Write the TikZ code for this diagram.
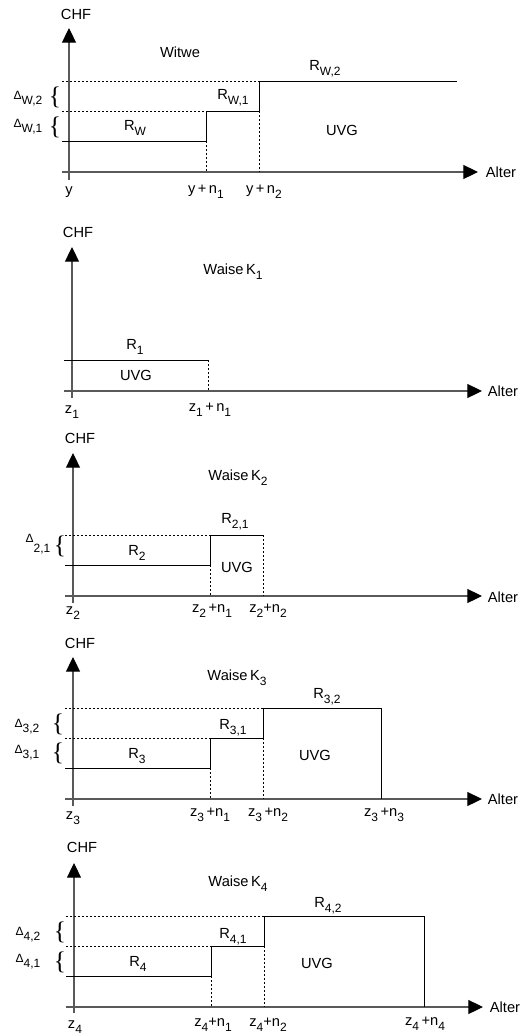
\documentclass[tikz,border=0pt]{standalone}
\usepackage{fontspec}
\setmainfont{Liberation Sans}
\newfontfamily\klammerfont{Liberation Serif}
\usetikzlibrary{arrows.meta}
\newcommand{\subx}[1]{\raisebox{-0.65ex}{\small #1}}
\newcommand{\dlt}{{\small Δ}}

\tikzset{every picture/.style={line width=0.75pt}}
\tikzset{every node/.style={font=\fontsize{11}{13}\selectfont, inner sep=0.75pt},
  axis/.style={draw=black!65, line width=0.8pt, -{Triangle[length=11pt,width=10.5pt,color=black]}},
  rente/.style={draw=black, line width=0.7pt},
  hilfs/.style={draw=black, line width=0.6pt, dash pattern={on 1.5pt off 1.5pt}},
  klammer/.style={font=\klammerfont\fontsize{19}{19}\selectfont}}

\begin{document}
\begin{tikzpicture}[x=0.75pt,y=0.75pt,yscale=-1,xscale=1]
  \useasboundingbox (0,0) rectangle (519,1035);

  %Panel: Witwe
  %Shape: Axis 2D
  \draw [axis] (69,180) -- (69,28) ;
  \draw [axis] (62,172) -- (478,172) ;
  %Straight Lines
  \draw [hilfs] (62,81) -- (259,81) ;
  \draw [hilfs] (62,111) -- (206,111) ;
  \draw [hilfs] (206,141) -- (206,172) ;
  \draw [hilfs] (259,111) -- (259,172) ;
  \draw [rente] (62,141) -- (206,141) -- (206,111) -- (259,111) -- (259,81) -- (457,81) ;

  % Text Node
  \draw (76,14) node (chfW) {CHF};
  \draw (180,52) node (witwe) {Witwe};
  \draw (135,128) node (rW) {R\subx{W}};
  \draw (233,98) node (rWa) {R\subx{W,1}};
  \draw (325,69) node (rWb) {R\subx{W,2}};
  \draw (342,130) node (uvgW) {UVG};
  \draw (28,99) node (dWb) {\dlt\subx{W,2}};
  \draw (55,97) node [klammer] (kWb) {\{};
  \draw (28,127) node (dWa) {\dlt\subx{W,1}};
  \draw (55,127) node [klammer] (kWa) {\{};
  \draw (69,192) node (xW) {y};
  \draw (206,192) node (xWa) {y\,+\,n\subx{1}};
  \draw (264,192) node (xWb) {y\,+\,n\subx{2}};
  \draw (501,172) node (alterW) {Alter};

  %Panel: Waise K1
  %Shape: Axis 2D
  \draw [axis] (72,398) -- (72,247) ;
  \draw [axis] (64,391) -- (482,391) ;
  %Straight Lines
  \draw [hilfs] (208,360) -- (208,391) ;
  \draw [rente] (64,360) -- (208,360) ;

  % Text Node
  \draw (78,232) node (chfA) {CHF};
  \draw (233,272) node (waiseA) {Waise\,K\subx{1}};
  \draw (135,347) node (rA) {R\subx{1}};
  \draw (136,375) node (uvgA) {UVG};
  \draw (72,412) node (xA) {z\subx{1}};
  \draw (210,410) node (xAa) {z\subx{1}\,+\,n\subx{1}};
  \draw (503,391) node (alterA) {Alter};

  %Panel: Waise K2
  %Shape: Axis 2D
  \draw [axis] (73,603) -- (73,453) ;
  \draw [axis] (65,596) -- (482,596) ;
  %Straight Lines
  \draw [hilfs] (65,535) -- (210,535) ;
  \draw [hilfs] (210,565) -- (210,596) ;
  \draw [hilfs] (263,535) -- (263,596) ;
  \draw [rente] (65,565) -- (210,565) -- (210,535) -- (263,535) ;

  % Text Node
  \draw (80,438) node (chfB) {CHF};
  \draw (238,478) node (waiseB) {Waise\,K\subx{2}};
  \draw (137,553) node (rB) {R\subx{2}};
  \draw (235,522) node (rBa) {R\subx{2,1}};
  \draw (237,567) node (uvgB) {UVG};
  \draw (38,544) node (dBa) {\dlt\raisebox{-1.3ex}{\small 2,1}};
  \draw (60,546) node [klammer] (kBa) {\{};
  \draw (73,613) node (xB) {z\subx{2}};
  \draw (212,611) node (xBa) {z\subx{2}\,+n\subx{1}};
  \draw (268,611) node (xBb) {z\subx{2}+n\subx{2}};
  \draw (503,597) node (alterB) {Alter};

  %Panel: Waise K3
  %Shape: Axis 2D
  \draw [axis] (73,806) -- (73,657) ;
  \draw [axis] (65,799) -- (482,799) ;
  %Straight Lines
  \draw [hilfs] (65,708) -- (263,708) ;
  \draw [hilfs] (65,738) -- (210,738) ;
  \draw [hilfs] (210,768) -- (210,799) ;
  \draw [hilfs] (263,738) -- (263,799) ;
  \draw [rente] (65,768) -- (210,768) -- (210,738) -- (263,738) -- (263,708) -- (381,708) -- (381,799) ;

  % Text Node
  \draw (80,643) node (chfC) {CHF};
  \draw (237,678) node (waiseC) {Waise\,K\subx{3}};
  \draw (137,756) node (rC) {R\subx{3}};
  \draw (233,728) node (rCa) {R\subx{3,1}};
  \draw (327,697) node (rCb) {R\subx{3,2}};
  \draw (315,755) node (uvgC) {UVG};
  \draw (27,727) node (dCb) {\dlt\subx{3,2}};
  \draw (58,724) node [klammer] (kCb) {\{};
  \draw (27,753) node (dCa) {\dlt\subx{3,1}};
  \draw (58,753) node [klammer] (kCa) {\{};
  \draw (73,818) node (xC) {z\subx{3}};
  \draw (210,815) node (xCa) {z\subx{3}\,+n\subx{1}};
  \draw (268,815) node (xCb) {z\subx{3}\,+n\subx{2}};
  \draw (384,815) node (xCc) {z\subx{3}\,+n\subx{3}};
  \draw (503,799) node (alterC) {Alter};

  %Panel: Waise K4
  %Shape: Axis 2D
  \draw [axis] (74,1013) -- (74,863) ;
  \draw [axis] (66,1007) -- (483,1007) ;
  %Straight Lines
  \draw [hilfs] (66,916) -- (264,916) ;
  \draw [hilfs] (66,946) -- (211,946) ;
  \draw [hilfs] (211,976) -- (211,1007) ;
  \draw [hilfs] (264,946) -- (264,1007) ;
  \draw [rente] (66,976) -- (211,976) -- (211,946) -- (264,946) -- (264,916) -- (424,916) -- (424,1007) ;

  % Text Node
  \draw (82,847) node (chfD) {CHF};
  \draw (238,884) node (waiseD) {Waise\,K\subx{4}};
  \draw (138,964) node (rD) {R\subx{4}};
  \draw (233,937) node (rDa) {R\subx{4,1}};
  \draw (328,906) node (rDb) {R\subx{4,2}};
  \draw (317,963) node (uvgD) {UVG};
  \draw (28,935) node (dDb) {\dlt\subx{4,2}};
  \draw (60,932) node [klammer] (kDb) {\{};
  \draw (28,962) node (dDa) {\dlt\subx{4,1}};
  \draw (60,962) node [klammer] (kDa) {\{};
  \draw (75,1027) node (xD) {z\subx{4}};
  \draw (213,1025) node (xDa) {z\subx{4}+n\subx{1}};
  \draw (268,1025) node (xDb) {z\subx{4}+n\subx{2}};
  \draw (425,1024) node (xDd) {z\subx{4}\,+n\subx{4}};
  \draw (505,1007) node (alterD) {Alter};

\end{tikzpicture}
\end{document}
